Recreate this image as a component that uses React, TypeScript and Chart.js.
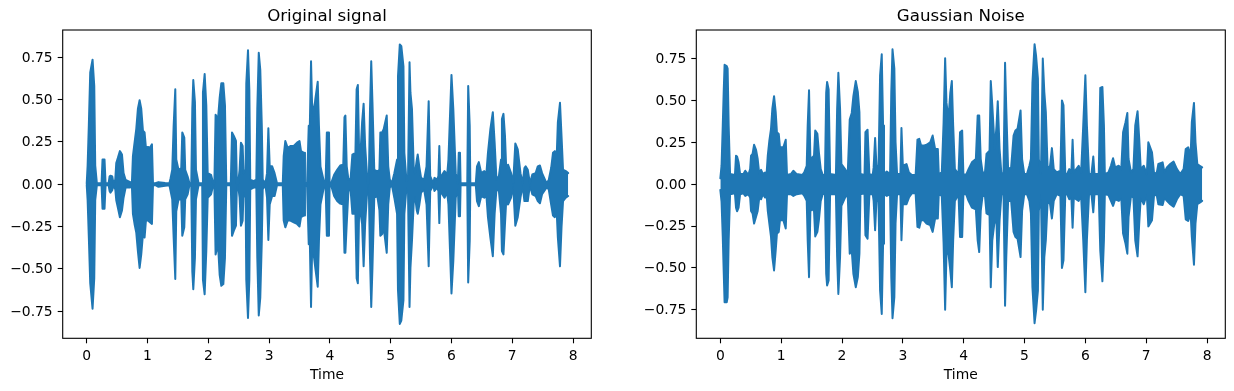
import React, { useEffect, useRef } from "react";
import { Chart, registerables } from "chart.js";

Chart.register(...registerables);

const originalTime = [
  0, 0.015, 0.035, 0.058, 0.096, 0.124, 0.14, 0.167, 0.222, 0.244,
  0.26, 0.293, 0.31, 0.36, 0.376, 0.39, 0.42, 0.44, 0.47, 0.486,
  0.513, 0.546, 0.58, 0.606, 0.64, 0.716, 0.743, 0.76, 0.787, 0.815,
  0.842, 0.87, 0.897, 0.925, 0.952, 0.974, 1.007, 1.04, 1.073, 1.09,
  1.13, 1.18, 1.29, 1.36, 1.38, 1.407, 1.43, 1.457, 1.473, 1.51,
  1.555, 1.572, 1.605, 1.62, 1.66, 1.69, 1.72, 1.737, 1.753, 1.78,
  1.797, 1.84, 1.9, 1.912, 1.94, 1.967, 1.99, 2.045, 2.08, 2.1,
  2.12, 2.16, 2.187, 2.214, 2.247, 2.274, 2.296, 2.37, 2.39, 2.42,
  2.455, 2.47, 2.49, 2.515, 2.537, 2.565, 2.58, 2.614, 2.625, 2.653,
  2.675, 2.69, 2.746, 2.79, 2.806, 2.83, 2.855, 2.88, 2.895, 2.94,
  2.966, 2.988, 3.01, 3.05, 3.09, 3.13, 3.225, 3.24, 3.267, 3.305,
  3.35, 3.405, 3.46, 3.5, 3.525, 3.575, 3.59, 3.625, 3.652, 3.67,
  3.69, 3.706, 3.733, 3.76, 3.8, 3.82, 3.845, 3.9, 3.93, 3.95,
  3.985, 3.995, 4.02, 4.07, 4.12, 4.17, 4.22, 4.24, 4.255, 4.277,
  4.305, 4.34, 4.37, 4.42, 4.44, 4.46, 4.48, 4.51, 4.53, 4.555,
  4.58, 4.62, 4.64, 4.66, 4.68, 4.7, 4.73, 4.78, 4.815, 4.83,
  4.86, 4.885, 4.935, 4.96, 4.985, 5.02, 5.06, 5.105, 5.12, 5.15,
  5.175, 5.21, 5.225, 5.26, 5.285, 5.31, 5.325, 5.35, 5.38, 5.4,
  5.43, 5.445, 5.47, 5.5, 5.55, 5.59, 5.625, 5.65, 5.7, 5.72,
  5.765, 5.785, 5.8, 5.815, 5.885, 5.93, 5.95, 6.0, 6.03, 6.07,
  6.105, 6.12, 6.14, 6.15, 6.26, 6.275, 6.3, 6.31, 6.4, 6.42,
  6.45, 6.49, 6.54, 6.575, 6.6, 6.64, 6.68, 6.71, 6.74, 6.78,
  6.815, 6.83, 6.855, 6.88, 6.9, 6.93, 6.98, 7.015, 7.05, 7.09,
  7.135, 7.17, 7.2, 7.22, 7.255, 7.29, 7.33, 7.385, 7.42, 7.455,
  7.49, 7.565, 7.6, 7.64, 7.67, 7.7, 7.73, 7.75, 7.785, 7.81,
  7.835, 7.88, 7.92,
];
const originalUpper = [
  0.004, 0.11, 0.35, 0.66, 0.735, 0.58, 0.11, 0.005, 0.005, 0.005,
  0.145, 0.145, 0.005, 0.005, 0.045, 0.05, 0.045, 0.005, 0.027, 0.125,
  0.155, 0.195, 0.175, 0.065, 0.025, 0.012, 0.005, 0.165, 0.245, 0.325,
  0.445, 0.495, 0.445, 0.315, 0.305, 0.215, 0.22, 0.215, 0.235, 0.005,
  0.005, 0.012, 0.007, 0.005, 0.035, 0.085, 0.345, 0.56, 0.145, 0.085,
  0.095, 0.305, 0.275, 0.085, 0.045, 0.005, 0.005, 0.445, 0.615, 0.485,
  0.085, 0.005, 0.005, 0.54, 0.65, 0.465, 0.065, 0.055, 0.005, 0.005,
  0.41, 0.385, 0.51, 0.595, 0.595, 0.465, 0.005, 0.005, 0.305, 0.285,
  0.255, 0.005, 0.005, 0.085, 0.245, 0.225, 0.065, 0.085, 0.595, 0.79,
  0.555, 0.027, 0.018, 0.027, 0.445, 0.775, 0.675, 0.345, 0.027, 0.005,
  0.065, 0.33, 0.105, 0.105, 0.065, 0.005, 0.005, 0.165, 0.255, 0.215,
  0.225, 0.225, 0.245, 0.255, 0.195, 0.185, 0.005, 0.005, 0.345, 0.345,
  0.725, 0.485, 0.405, 0.5, 0.605, 0.345, 0.105, 0.018, 0.018, 0.305,
  0.305, 0.005, 0.005, 0.055, 0.085, 0.11, 0.115, 0.395, 0.405, 0.105,
  0.027, 0.03, 0.175, 0.185, 0.56, 0.585, 0.205, 0.225, 0.365, 0.475,
  0.225, 0.005, 0.005, 0.445, 0.725, 0.485, 0.085, 0.075, 0.085, 0.305,
  0.305, 0.325, 0.405, 0.105, 0.027, 0.005, 0.065, 0.145, 0.635, 0.825,
  0.815, 0.695, 0.185, 0.018, 0.027, 0.72, 0.54, 0.445, 0.085, 0.065,
  0.145, 0.175, 0.105, 0.037, 0.027, 0.105, 0.49, 0.047, 0.005, 0.037,
  0.027, 0.047, 0.225, 0.037, 0.077, 0.057, 0.145, 0.645, 0.445, 0.065,
  0.005, 0.185, 0.185, 0.005, 0.005, 0.58, 0.345, 0.005, 0.005, 0.105,
  0.13, 0.065, 0.077, 0.065, 0.185, 0.325, 0.425, 0.245, 0.027, 0.047,
  0.145, 0.385, 0.415, 0.285, 0.095, 0.115, 0.065, 0.005, 0.24, 0.205,
  0.065, 0.005, 0.095, 0.105, 0.085, 0.005, 0.057, 0.065, 0.105, 0.11,
  0.065, 0.005, 0.025, 0.095, 0.185, 0.195, 0.155, 0.365, 0.48, 0.285,
  0.085, 0.077, 0.065,
];
const originalLower = [
  -0.004, -0.095, -0.315, -0.585, -0.735, -0.555, -0.095, -0.006, -0.006, -0.006,
  -0.145, -0.145, -0.006, -0.006, -0.04, -0.05, -0.035, -0.006, -0.03, -0.095,
  -0.14, -0.195, -0.155, -0.08, -0.02, -0.02, -0.006, -0.175, -0.235, -0.285,
  -0.395, -0.495, -0.415, -0.295, -0.315, -0.215, -0.215, -0.225, -0.235, -0.006,
  -0.006, -0.016, -0.009, -0.006, -0.04, -0.09, -0.315, -0.56, -0.16, -0.09,
  -0.09, -0.305, -0.255, -0.09, -0.06, -0.006, -0.012, -0.515, -0.62, -0.435,
  -0.09, -0.006, -0.006, -0.565, -0.65, -0.395, -0.08, -0.06, -0.006, -0.006,
  -0.415, -0.355, -0.535, -0.6, -0.59, -0.435, -0.006, -0.006, -0.305, -0.275,
  -0.245, -0.006, -0.006, -0.08, -0.245, -0.215, -0.04, -0.08, -0.565, -0.79,
  -0.565, -0.03, -0.02, -0.02, -0.435, -0.775, -0.67, -0.335, -0.03, -0.006,
  -0.08, -0.33, -0.12, -0.07, -0.07, -0.006, -0.006, -0.215, -0.255, -0.215,
  -0.215, -0.225, -0.235, -0.25, -0.195, -0.185, -0.006, -0.012, -0.355, -0.335,
  -0.725, -0.415, -0.415, -0.495, -0.605, -0.335, -0.12, -0.02, -0.02, -0.305,
  -0.305, -0.006, -0.006, -0.07, -0.1, -0.115, -0.12, -0.405, -0.405, -0.235,
  -0.04, -0.03, -0.175, -0.175, -0.555, -0.585, -0.175, -0.185, -0.235, -0.485,
  -0.235, -0.006, -0.006, -0.435, -0.725, -0.495, -0.08, -0.07, -0.155, -0.305,
  -0.295, -0.255, -0.405, -0.12, -0.02, -0.006, -0.08, -0.175, -0.625, -0.825,
  -0.805, -0.685, -0.175, -0.02, -0.04, -0.725, -0.495, -0.335, -0.1, -0.07,
  -0.155, -0.175, -0.125, -0.05, -0.03, -0.12, -0.485, -0.04, -0.006, -0.04,
  -0.02, -0.04, -0.23, -0.04, -0.08, -0.05, -0.12, -0.645, -0.455, -0.08,
  -0.02, -0.19, -0.19, -0.006, -0.006, -0.58, -0.335, -0.006, -0.006, -0.1,
  -0.13, -0.07, -0.08, -0.07, -0.195, -0.315, -0.425, -0.175, -0.03, -0.04,
  -0.175, -0.395, -0.415, -0.235, -0.1, -0.12, -0.08, -0.006, -0.245, -0.195,
  -0.08, -0.006, -0.1, -0.1, -0.1, -0.006, -0.06, -0.07, -0.1, -0.113,
  -0.06, -0.02, -0.03, -0.12, -0.185, -0.195, -0.155, -0.315, -0.485, -0.255,
  -0.1, -0.08, -0.07,
];

const noiseTime = [
  0, 0.02, 0.04, 0.055, 0.07, 0.105, 0.12, 0.137, 0.16, 0.24,
  0.258, 0.275, 0.3, 0.325, 0.38, 0.41, 0.46, 0.49, 0.505, 0.53,
  0.555, 0.587, 0.614, 0.64, 0.67, 0.7, 0.735, 0.76, 0.78, 0.806,
  0.833, 0.855, 0.883, 0.91, 0.93, 0.96, 0.98, 1.036, 1.075, 1.096,
  1.16, 1.2, 1.255, 1.35, 1.38, 1.42, 1.436, 1.458, 1.48, 1.513,
  1.54, 1.56, 1.595, 1.62, 1.65, 1.683, 1.72, 1.74, 1.755, 1.78,
  1.804, 1.9, 1.92, 1.94, 1.968, 1.99, 2.05, 2.094, 2.127, 2.16,
  2.187, 2.226, 2.26, 2.286, 2.303, 2.37, 2.385, 2.42, 2.45, 2.505,
  2.52, 2.544, 2.566, 2.6, 2.626, 2.653, 2.675, 2.69, 2.736, 2.79,
  2.81, 2.83, 2.86, 2.88, 2.905, 2.96, 2.977, 3.0, 3.06, 3.1,
  3.147, 3.21, 3.24, 3.27, 3.3, 3.34, 3.39, 3.45, 3.49, 3.53,
  3.575, 3.59, 3.64, 3.67, 3.695, 3.717, 3.75, 3.78, 3.805, 3.827,
  3.855, 3.915, 3.94, 3.975, 3.995, 4.04, 4.08, 4.135, 4.2, 4.23,
  4.255, 4.28, 4.31, 4.35, 4.375, 4.425, 4.445, 4.47, 4.51, 4.54,
  4.56, 4.59, 4.62, 4.655, 4.68, 4.7, 4.73, 4.78, 4.82, 4.85,
  4.885, 4.935, 4.96, 4.995, 5.04, 5.08, 5.105, 5.13, 5.165, 5.19,
  5.22, 5.235, 5.27, 5.3, 5.325, 5.35, 5.38, 5.42, 5.45, 5.48,
  5.53, 5.59, 5.615, 5.64, 5.67, 5.7, 5.735, 5.77, 5.79, 5.81,
  5.89, 5.93, 5.965, 6.0, 6.025, 6.06, 6.1, 6.13, 6.15, 6.22,
  6.245, 6.28, 6.305, 6.32, 6.38, 6.42, 6.455, 6.49, 6.55, 6.59,
  6.62, 6.66, 6.69, 6.71, 6.75, 6.79, 6.82, 6.858, 6.885, 6.91,
  6.96, 7.01, 7.035, 7.095, 7.13, 7.175, 7.2, 7.27, 7.3, 7.34,
  7.395, 7.45, 7.505, 7.56, 7.615, 7.65, 7.69, 7.73, 7.75, 7.785,
  7.81, 7.84, 7.88, 7.92,
];
const noiseUpper = [
  0.035, 0.11, 0.35, 0.545, 0.712, 0.705, 0.69, 0.35, 0.06, 0.055,
  0.17, 0.165, 0.13, 0.06, 0.06, 0.08, 0.055, 0.09, 0.17, 0.18,
  0.235, 0.205, 0.15, 0.06, 0.085, 0.06, 0.07, 0.06, 0.17, 0.26,
  0.33, 0.45, 0.525, 0.43, 0.31, 0.3, 0.22, 0.22, 0.265, 0.055,
  0.06, 0.08, 0.06, 0.055, 0.07, 0.11, 0.35, 0.56, 0.15, 0.16,
  0.17, 0.32, 0.3, 0.19, 0.09, 0.055, 0.055, 0.545, 0.61, 0.565,
  0.06, 0.055, 0.45, 0.665, 0.45, 0.12, 0.09, 0.06, 0.385, 0.425,
  0.525, 0.615, 0.55, 0.43, 0.06, 0.055, 0.31, 0.325, 0.06, 0.055,
  0.1, 0.275, 0.11, 0.1, 0.65, 0.775, 0.35, 0.06, 0.075, 0.06,
  0.55, 0.805, 0.69, 0.25, 0.06, 0.06, 0.335, 0.11, 0.12, 0.07,
  0.055, 0.055, 0.265, 0.27, 0.23, 0.23, 0.235, 0.25, 0.29, 0.21,
  0.21, 0.06, 0.07, 0.37, 0.752, 0.485, 0.39, 0.545, 0.615, 0.35,
  0.09, 0.06, 0.31, 0.32, 0.06, 0.055, 0.09, 0.13, 0.15, 0.41,
  0.41, 0.15, 0.07, 0.07, 0.18, 0.2, 0.615, 0.47, 0.21, 0.35,
  0.495, 0.21, 0.06, 0.07, 0.725, 0.45, 0.09, 0.1, 0.29, 0.32,
  0.33, 0.44, 0.15, 0.06, 0.06, 0.11, 0.15, 0.605, 0.835, 0.765,
  0.63, 0.15, 0.06, 0.75, 0.55, 0.43, 0.09, 0.11, 0.215, 0.09,
  0.07, 0.08, 0.5, 0.47, 0.06, 0.06, 0.09, 0.07, 0.265, 0.07,
  0.11, 0.07, 0.35, 0.65, 0.35, 0.06, 0.06, 0.165, 0.06, 0.06,
  0.575, 0.58, 0.35, 0.06, 0.07, 0.11, 0.155, 0.1, 0.11, 0.09,
  0.31, 0.37, 0.425, 0.15, 0.07, 0.09, 0.35, 0.435, 0.27, 0.09,
  0.11, 0.06, 0.25, 0.19, 0.06, 0.07, 0.12, 0.13, 0.07, 0.1,
  0.12, 0.135, 0.09, 0.06, 0.09, 0.21, 0.22, 0.17, 0.37, 0.485,
  0.25, 0.12, 0.11, 0.1,
];
const noiseLower = [
  -0.035, -0.105, -0.315, -0.515, -0.705, -0.705, -0.675, -0.335, -0.06, -0.055,
  -0.14, -0.162, -0.14, -0.06, -0.055, -0.07, -0.06, -0.08, -0.16, -0.175,
  -0.235, -0.195, -0.16, -0.08, -0.09, -0.06, -0.08, -0.06, -0.16, -0.235,
  -0.315, -0.435, -0.515, -0.395, -0.295, -0.285, -0.215, -0.215, -0.265, -0.06,
  -0.06, -0.07, -0.06, -0.055, -0.07, -0.1, -0.335, -0.555, -0.16, -0.15,
  -0.16, -0.312, -0.285, -0.215, -0.1, -0.06, -0.055, -0.535, -0.605, -0.575,
  -0.06, -0.06, -0.435, -0.655, -0.435, -0.13, -0.08, -0.06, -0.415, -0.395,
  -0.535, -0.615, -0.555, -0.415, -0.06, -0.055, -0.305, -0.325, -0.06, -0.06,
  -0.1, -0.275, -0.1, -0.1, -0.635, -0.775, -0.355, -0.06, -0.07, -0.06,
  -0.555, -0.8, -0.675, -0.235, -0.06, -0.06, -0.335, -0.12, -0.12, -0.08,
  -0.055, -0.055, -0.255, -0.26, -0.215, -0.215, -0.235, -0.245, -0.285, -0.205,
  -0.205, -0.06, -0.07, -0.355, -0.75, -0.415, -0.415, -0.515, -0.615, -0.335,
  -0.1, -0.06, -0.315, -0.315, -0.06, -0.06, -0.1, -0.14, -0.15, -0.335,
  -0.405, -0.16, -0.07, -0.07, -0.175, -0.185, -0.615, -0.335, -0.215, -0.235,
  -0.495, -0.215, -0.06, -0.06, -0.725, -0.435, -0.1, -0.1, -0.285, -0.315,
  -0.325, -0.435, -0.16, -0.06, -0.06, -0.1, -0.175, -0.615, -0.83, -0.755,
  -0.635, -0.16, -0.06, -0.75, -0.435, -0.335, -0.1, -0.12, -0.205, -0.1,
  -0.06, -0.07, -0.5, -0.455, -0.06, -0.06, -0.09, -0.08, -0.26, -0.08,
  -0.1, -0.07, -0.335, -0.645, -0.335, -0.06, -0.06, -0.168, -0.06, -0.06,
  -0.395, -0.58, -0.335, -0.06, -0.065, -0.1, -0.13, -0.09, -0.1, -0.08,
  -0.295, -0.355, -0.415, -0.195, -0.07, -0.08, -0.335, -0.431, -0.235, -0.08,
  -0.12, -0.06, -0.252, -0.215, -0.06, -0.07, -0.12, -0.125, -0.08, -0.1,
  -0.12, -0.135, -0.09, -0.06, -0.07, -0.21, -0.22, -0.175, -0.315, -0.481,
  -0.235, -0.12, -0.11, -0.1,
];

const xTickStep = 1;
const yTickStep = 0.25;
const titles = ["Original signal", "Gaussian Noise"];
const xTitle = "Time";

const BLUE = "#1f77b4";
const FONT = '"DejaVu Sans", sans-serif';

const frame = {
  id: "frame",
  afterDraw(chart: Chart) {
    const { ctx, chartArea: a } = chart;
    ctx.save();
    ctx.strokeStyle = "#000";
    ctx.lineWidth = 1.1;
    ctx.strokeRect(a.left, a.top, a.right - a.left, a.bottom - a.top);
    ctx.restore();
  },
};

function makeChart(
  canvas: HTMLCanvasElement,
  title: string,
  time: number[],
  upper: number[],
  lower: number[],
  yLimit: number,
  leftWidth: number,
  rightPad: number,
) {
  const pts = (v: number[]) => time.map((t, i) => ({ x: t, y: v[i] }));
  const line = {
    borderColor: BLUE,
    borderWidth: 2,
    borderJoinStyle: "round",
    borderCapStyle: "round",
    pointRadius: 0,
    showLine: true,
    tension: 0,
  };
  return new Chart(canvas, {
    type: "scatter",
    data: {
      datasets: [
        { ...line, data: pts(upper), fill: "+1", backgroundColor: BLUE },
        { ...line, data: pts(lower), fill: false },
      ],
    },
    plugins: [frame],
    options: {
      responsive: false,
      animation: false,
      layout: { padding: { left: 0, right: rightPad, top: 0, bottom: 0 } },
      plugins: {
        legend: { display: false },
        tooltip: { enabled: false },
        title: {
          display: true,
          text: title,
          color: "#000",
          fullSize: false,
          font: { family: FONT, size: 16.67, weight: "normal", lineHeight: 1.2 },
          padding: { top: 7, bottom: 3 },
        },
      },
      scales: {
        x: {
          type: "linear",
          min: -0.395,
          max: 8.3,
          border: { display: false },
          grid: { drawOnChartArea: false, drawTicks: true, tickLength: 5, tickColor: "#000", tickWidth: 1.1 },
          ticks: {
            stepSize: xTickStep,
            includeBounds: false,
            autoSkip: false,
            maxRotation: 0,
            color: "#000",
            padding: 5,
            font: { family: FONT, size: 13.89 },
            callback: (v: number) => String(v),
          },
          title: {
            display: true,
            text: xTitle,
            color: "#000",
            font: { family: FONT, size: 13.89, weight: "normal" },
            padding: { top: 0, bottom: 7 },
          },
          afterFit: (s: any) => { s.height = 391 - 338.3; },
        },
        y: {
          type: "linear",
          min: -yLimit,
          max: yLimit,
          border: { display: false },
          grid: { drawOnChartArea: false, drawTicks: true, tickLength: 5, tickColor: "#000", tickWidth: 1.1 },
          ticks: {
            stepSize: yTickStep,
            includeBounds: false,
            autoSkip: false,
            color: "#000",
            padding: 5,
            labelOffset: 0.8,
            font: { family: FONT, size: 13.89 },
            callback: (v: number) => Number(v).toFixed(2).replace("-", "\u2212"),
          },
          afterFit: (s: any) => { s.width = leftWidth; },
        },
      },
    } as any,
  });
}

export default function App() {
  const a = useRef<HTMLCanvasElement>(null);
  const b = useRef<HTMLCanvasElement>(null);
  useEffect(() => {
    const c1 = makeChart(a.current!, titles[0], originalTime, originalUpper, originalLower, 0.91, 62.7, 25.7);
    const c2 = makeChart(b.current!, titles[1], noiseTime, noiseUpper, noiseLower, 0.92, 79.3, 8.7);
    return () => { c1.destroy(); c2.destroy(); };
  }, []);
  return (
    <div>
      <canvas ref={a} width={617} height={391} style={{ position: "absolute", left: 0, top: 0, width: 617, height: 391 }} />
      <canvas ref={b} width={617} height={391} style={{ position: "absolute", left: 617, top: 0, width: 617, height: 391 }} />
    </div>
  );
}
